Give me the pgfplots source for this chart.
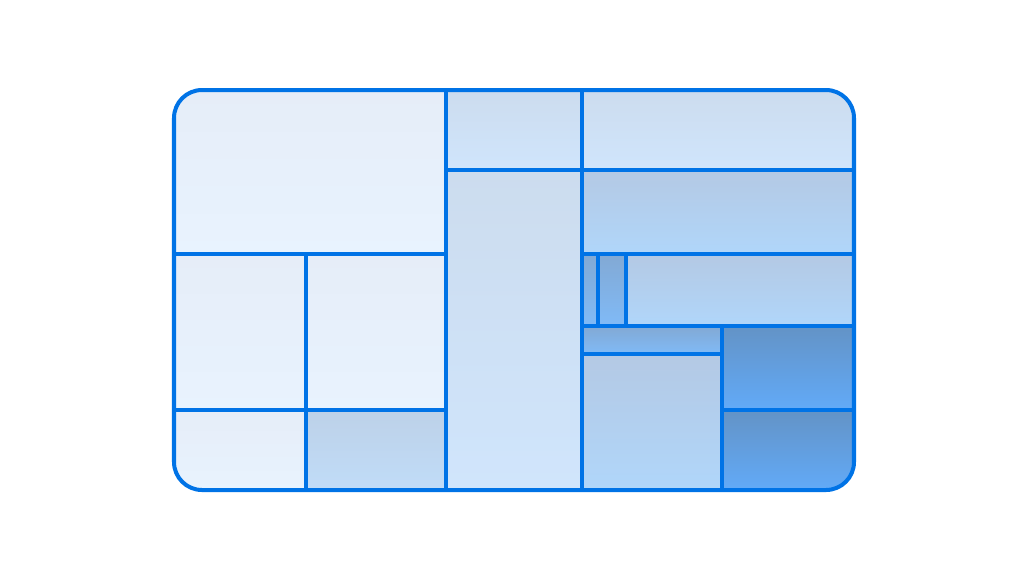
\documentclass[border=0pt]{standalone}
\usepackage{pgfplots}
\pgfplotsset{compat=1.18}

\definecolor{edge}{RGB}{0,115,230}
\definecolor{aT}{HTML}{E6EDF8}\definecolor{aB}{HTML}{E8F3FE}
\definecolor{bT}{HTML}{CCDCEE}\definecolor{bB}{HTML}{D0E5FC}
\definecolor{fT}{HTML}{BDD1E8}\definecolor{fB}{HTML}{C0DCF8}
\definecolor{cT}{HTML}{B4C9E4}\definecolor{cB}{HTML}{B0D6FA}
\definecolor{dT}{HTML}{82A9D4}\definecolor{dB}{HTML}{80BAF7}
\definecolor{eT}{HTML}{6393C6}\definecolor{eB}{HTML}{62AAF8}

% cell: x1 y1 x2 y2 (pixel units, y downwards), shade prefix
\newcommand\cell[5]{%
  \addplot[mark=none, draw=edge, line width=1.14pt,
    top color=#5T, bottom color=#5B]
    coordinates {(#1,#2) (#3,#2) (#3,#4) (#1,#4)} -- cycle;}

\begin{document}
\begin{tikzpicture}
\useasboundingbox (0,0) rectangle (10.24,5.76);
\begin{scope}
\clip[rounded corners=0.28cm] (1.74,0.86) rectangle (8.54,4.86);
\begin{axis}[
    at={(0,0)}, anchor=south west,
    scale only axis, width=10.24cm, height=5.76cm,
    xmin=0, xmax=1024, ymin=0, ymax=576, y dir=reverse,
    hide axis, clip=false,
]
\cell{174}{90}{446}{254}{a}
\cell{174}{254}{306}{410}{a}
\cell{306}{254}{446}{410}{a}
\cell{174}{410}{306}{490}{a}
\cell{306}{410}{446}{490}{f}
\cell{446}{90}{582}{170}{b}
\cell{446}{170}{582}{490}{b}
\cell{582}{90}{854}{170}{b}
\cell{582}{170}{854}{254}{c}
\cell{582}{254}{598}{326}{d}
\cell{598}{254}{626}{326}{d}
\cell{626}{254}{854}{326}{c}
\cell{582}{326}{722}{354}{d}
\cell{582}{354}{722}{490}{c}
\cell{722}{326}{854}{410}{e}
\cell{722}{410}{854}{490}{e}
\end{axis}
\end{scope}
\draw[edge, line width=1.14pt, rounded corners=0.28cm] (1.74,0.86) rectangle (8.54,4.86);
\end{tikzpicture}
\end{document}
